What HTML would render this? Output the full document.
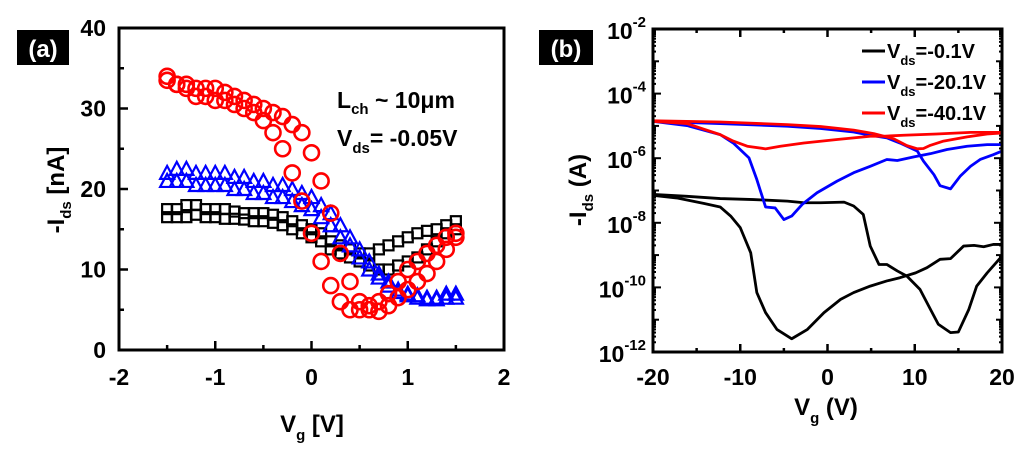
<!DOCTYPE html>
<html><head><meta charset="utf-8"><style>
body{margin:0;background:#fff;width:1024px;height:450px;overflow:hidden}
svg{display:block;font-family:"Liberation Sans",Arial,sans-serif;font-weight:bold}
</style></head><body>
<svg id="fig" width="1024" height="450" viewBox="0 0 1024 450">
<g id="pa"></g>
<g id="pb"></g>
</svg>
<script>
// ---- Panel (a) data ----
const vgA = [-1.5,-1.4,-1.3,-1.2,-1.1,-1.0,-0.9,-0.8,-0.7,-0.6,-0.5,-0.4,-0.3,-0.2,-0.1,0,0.1,0.2,0.3,0.4,0.5,0.6,0.7,0.8,0.9,1.0,1.1,1.2,1.3,1.4,1.5];
const blackUp = [17.5,17.5,18,18,17.5,17.5,17.5,17.2,17,17,17,16.8,16.5,16,15.5,15,14.5,13.5,13,12.5,12,12,12.5,13,13.5,14,14.5,14.8,15,15.5,16];
const blackLo = [16.5,16.5,16.5,16.8,16.5,16.5,16.3,16.3,16.2,16,16,15.8,15.5,15,14.5,14,13.5,12.5,12,11.5,11,10.5,10,10,10.5,11,11.5,12.5,13.5,14.5,15];
const blueUp = [22,22.5,22.5,22,22,22,22,21.5,21.5,21,21,20.5,20.5,20,19.5,19,18,17,15.5,14,12.5,11,9.5,8.5,7.5,7,6.8,6.5,6.5,7,7];
const blueLo = [21,21,21,20.5,20.5,20.5,20.5,20,20,19.5,19.5,19,19,18.5,18,17.5,16.5,15.5,14,13,11.5,10,9,8,7.2,6.8,6.5,6.3,6.3,6.5,6.5];
const redL = [34,33,32.5,31.5,31.5,31,31,30.5,30,29.5,28.5,27,25,22,18.5,14.5,11,8,6,5,5,5.5,6,7,8.5,10,11,12,13,14,14.5];
const redR = [33.5,33,33,32.5,32.5,32.5,32,31.5,31,30.5,30,29.5,29,28,27,24.5,21,17,12,8.5,6,5,4.8,5.5,6.5,7.5,8.5,9.5,11,12.5,14];
const xTicksA = [-2,-1,0,1,2];
const yTicksA = [0,10,20,30,40];

// ---- Panel (b) data (exponent of |Ids| in A) ----
const bkAvg = [-20,-17.3,-14.2,-12.3,-11.1,-10,-8.8,-8.1,-7.1,-5.8,-4.1,-2.3,-0.4,1.5,3.0,4.9,6.8,8.3,10.1,11.4,12.9,14.1,15.6,16.8,17.9,19.0,20];
const bkAe = [-7.15,-7.23,-7.40,-7.51,-7.79,-8.15,-8.93,-10.16,-10.78,-11.30,-11.59,-11.30,-10.78,-10.37,-10.16,-9.96,-9.80,-9.70,-9.55,-9.39,-9.13,-9.11,-8.72,-8.70,-8.74,-8.67,-8.67];
const bkBvg = [-20,-16.1,-12.3,-8.5,-4.6,-2.7,-0.8,1.9,3.0,4.1,4.9,5.9,6.8,8.0,9.1,10.6,11.8,12.7,14.1,15.0,16.2,17.1,18.3,20];
const bkBe = [-7.12,-7.18,-7.25,-7.28,-7.33,-7.38,-7.38,-7.36,-7.48,-7.74,-8.72,-9.29,-9.29,-9.49,-9.65,-10.06,-10.68,-11.14,-11.40,-11.38,-10.68,-9.96,-9.55,-9.03];
const blAvg = [-20,-16.1,-12.3,-10.8,-9.0,-8.1,-7.1,-6.0,-5.0,-4.1,-2.9,-1.2,1.1,3.0,4.9,6.8,8.0,9.9,11.8,13.7,16.0,18.3,20];
const blAe = [-4.86,-4.99,-5.27,-5.53,-5.99,-6.66,-7.51,-7.54,-7.90,-7.79,-7.43,-7.07,-6.71,-6.45,-6.25,-6.04,-6.07,-5.96,-5.86,-5.73,-5.63,-5.58,-5.58];
const blBvg = [-20,-12.3,-4.6,-0.8,3.0,4.9,6.8,8.3,10.3,11.0,12.2,12.9,14.1,15.2,16.4,17.5,19.0,20];
const blBe = [-4.86,-4.93,-5.01,-5.08,-5.19,-5.29,-5.37,-5.53,-5.78,-6.09,-6.51,-6.85,-6.95,-6.56,-6.25,-6.04,-5.89,-5.78];
const rdAvg = [-20,-16.1,-12.3,-10.8,-9.2,-7.1,-5.4,-2.7,1.1,4.9,6.4,8.7,12.5,16.4,20];
const rdAe = [-4.86,-4.93,-5.27,-5.47,-5.63,-5.71,-5.63,-5.53,-5.42,-5.32,-5.32,-5.29,-5.25,-5.20,-5.20];
const rdBvg = [-20,-12.3,-4.6,-0.8,3.0,5.3,7.6,9.1,10.3,11.0,11.8,13.3,16.0,18.3,20];
const rdBe = [-4.84,-4.88,-4.96,-5.02,-5.13,-5.24,-5.40,-5.61,-5.71,-5.70,-5.60,-5.47,-5.34,-5.25,-5.22];
const xTicksB = [-20,-10,0,10,20];
const yExpB = [-2,-4,-6,-8,-10,-12];
const legendLabels = ["=-0.1V","=-20.1V","=-40.1V"];

const NS="http://www.w3.org/2000/svg";
function mk(parent,tag,attrs,text){const e=document.createElementNS(NS,tag);for(const k in attrs)e.setAttribute(k,attrs[k]);if(text!==undefined)e.textContent=text;parent.appendChild(e);return e;}

// ===== Panel A =====
const pa=document.getElementById('pa');
const AX0=119,AX1=504,AY0=28,AY1=350;
const xa=v=>AX0+(v+2)/4*(AX1-AX0);
const ya=v=>AY1-v/40*(AY1-AY0);
let lab=mk(pa,'rect',{x:17,y:30,width:52,height:35,fill:'#000'});


let t=mk(pa,'text',{x:43,y:57,'text-anchor':'middle','font-size':24,fill:'#fff'},'(a)');


for(let v=-1.5;v<=1.51;v+=0.5){const x=xa(v);const l=mk(pa,'line',{x1:x,x2:x,y1:AY1,y2:AY1-(Math.abs(v-Math.round(v))<0.01?9:5),stroke:'#000','stroke-width':2.5});}
for(let v=5;v<40;v+=5){const y=ya(v);const l=mk(pa,'line',{x1:AX0,x2:AX0+(v%10===0?9:5),y1:y,y2:y,stroke:'#000','stroke-width':2.5});}
xTicksA.forEach(v=>{const e=mk(pa,'text',{x:xa(v),y:385,'text-anchor':'middle','font-size':23},String(v));});
yTicksA.forEach(v=>{const e=mk(pa,'text',{x:106,y:ya(v)+8,'text-anchor':'end','font-size':23},String(v));});
function drawMarkers(vals,color,shape,name){const g=mk(pa,'g',{fill:'none',stroke:color,'stroke-width':shape==='c'?2.6:2.2});
 vals.forEach((v,i)=>{const x=xa(vgA[i]),y=ya(v);let m;
  if(shape==='c')m=mk(g,'circle',{cx:x,cy:y,r:7.5});
  else if(shape==='s')m=mk(g,'rect',{x:x-5,y:y-5,width:10,height:10});
  else m=mk(g,'polygon',{points:`${x},${y-7} ${x-7},${y+6} ${x+7},${y+6}`});
  });}
drawMarkers(blackUp,'#000','s','black-forward');
drawMarkers(blackLo,'#000','s','black-reverse');
drawMarkers(blueUp,'#0000ff','t','blue-forward');
drawMarkers(blueLo,'#0000ff','t','blue-reverse');
drawMarkers(redL,'#ff0000','c','red-forward');
drawMarkers(redR,'#ff0000','c','red-reverse');
let fr=mk(pa,'rect',{x:AX0,y:AY0,width:AX1-AX0,height:AY1-AY0,fill:'none',stroke:'#000','stroke-width':3});

t=mk(pa,'text',{x:337,y:108,'font-size':23});t.innerHTML='L<tspan font-size="15" dy="6">ch</tspan><tspan dy="-6"> ~ 10μm</tspan>';

t=mk(pa,'text',{x:337,y:146,'font-size':23});t.innerHTML='V<tspan font-size="15" dy="7">ds</tspan><tspan dy="-7">= -0.05V</tspan>';

t=mk(pa,'text',{x:312,y:432,'text-anchor':'middle','font-size':24});t.innerHTML='V<tspan font-size="15" dy="8">g</tspan><tspan dy="-8"> [V]</tspan>';

t=mk(pa,'text',{x:0,y:0,'text-anchor':'middle','font-size':24,transform:'translate(64,190) rotate(-90)'});t.innerHTML='-I<tspan font-size="15" dy="7">ds</tspan><tspan dy="-7"> [nA]</tspan>';


// ===== Panel B =====
const pb=document.getElementById('pb');
const BX0=653,BX1=1002,BY0=29,BY1=352;
const xb=v=>BX0+(v+20)/40*(BX1-BX0);
const yb=e=>BY0+(-2-e)/10*(BY1-BY0);
lab=mk(pb,'rect',{x:539,y:30,width:54,height:35,fill:'#000'});

t=mk(pb,'text',{x:566,y:57,'text-anchor':'middle','font-size':24,fill:'#fff'},'(b)');

for(let v=-15;v<=15;v+=5){const x=xb(v),L=(v%10===0)?8:4;
 [[BY1,BY1-L],[BY0,BY0+L]].forEach(p=>{const l=mk(pb,'line',{x1:x,x2:x,y1:p[0],y2:p[1],stroke:'#000','stroke-width':2.5});});}
for(let d=-12;d<-2;d++){for(let m=1;m<10;m++){const e=d+Math.log10(m);const y=yb(e);const L=(m===1)?(d%2===0?8:6):3;
 [[BX0,BX0+L],[BX1,BX1-L]].forEach(p=>{const l=mk(pb,'line',{x1:p[0],x2:p[1],y1:y,y2:y,stroke:'#000','stroke-width':2});});}}
xTicksB.forEach(v=>{const e=mk(pb,'text',{x:xb(v),y:385,'text-anchor':'middle','font-size':23},String(v));});
yExpB.forEach(v=>{const e=mk(pb,'text',{x:646,y:yb(v)+10,'text-anchor':'end','font-size':23});e.innerHTML='10<tspan font-size="15" dy="-12">'+v+'</tspan>';});
function drawLine(xs,es,color,name){const p=mk(pb,'polyline',{points:xs.map((v,i)=>xb(v)+','+yb(es[i])).join(' '),fill:'none',stroke:color,'stroke-width':2.8,'stroke-linejoin':'round'});}
drawLine(bkAvg,bkAe,'#000','black-sweep-1');
drawLine(bkBvg,bkBe,'#000','black-sweep-2');
drawLine(blAvg,blAe,'#0000ff','blue-sweep-1');
drawLine(blBvg,blBe,'#0000ff','blue-sweep-2');
drawLine(rdAvg,rdAe,'#ff0000','red-sweep-1');
drawLine(rdBvg,rdBe,'#ff0000','red-sweep-2');
fr=mk(pb,'rect',{x:BX0,y:BY0,width:BX1-BX0,height:BY1-BY0,fill:'none',stroke:'#000','stroke-width':3});

const legCols=['#000','#0000ff','#ff0000'];
legendLabels.forEach((s,i)=>{const y=51+i*31;const g=mk(pb,'g',{});
 mk(g,'line',{x1:862,x2:885,y1:y,y2:y,stroke:legCols[i],'stroke-width':3});
 const tx=mk(g,'text',{x:887,y:y+7,'font-size':20});tx.innerHTML='V<tspan font-size="13" dy="7">ds</tspan><tspan dy="-7">'+s+'</tspan>';});
t=mk(pb,'text',{x:826,y:415,'text-anchor':'middle','font-size':24});t.innerHTML='V<tspan font-size="15" dy="8">g</tspan><tspan dy="-8"> (V)</tspan>';

t=mk(pb,'text',{x:0,y:0,'text-anchor':'middle','font-size':24,transform:'translate(586,190) rotate(-90)'});t.innerHTML='-I<tspan font-size="15" dy="7">ds</tspan><tspan dy="-7"> (A)</tspan>';

</script>
</body></html>
